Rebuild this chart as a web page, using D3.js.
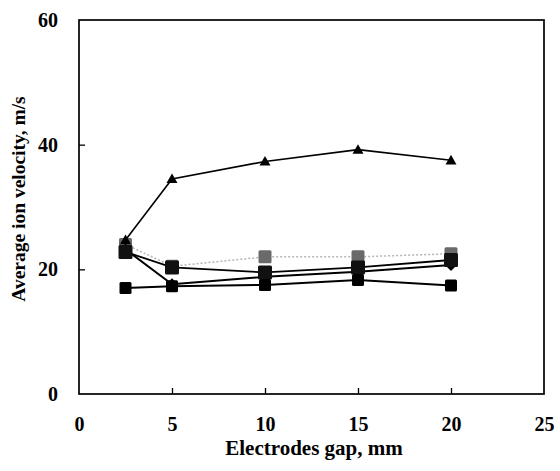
<!DOCTYPE html>
<html><head><meta charset="utf-8">
<script src="https://cdn.jsdelivr.net/npm/d3@7"></script>
<style>body{margin:0;background:#fff}svg{display:block}text{font-family:"Liberation Serif","Times New Roman",serif;fill:#000}</style>
</head><body>
<svg id="c" width="560" height="471"></svg>
<script>
const gaps = [2.5, 5, 10, 15, 20];
const triangleSeries = [24.7, 34.5, 37.3, 39.2, 37.5];
const bottomSquareSeries = [17.0, 17.3, 17.5, 18.3, 17.4];
const graySquareSeries = [24.0, 20.5, 22.0, 22.0, 22.5];
const blackSquareSeries = [22.8, 20.3, 19.5, 20.3, 21.5];
const diamondSeries = [23.2, 17.6, 18.8, 19.6, 20.7];
const xTicks = [0, 5, 10, 15, 20, 25];
const yTicks = [0, 20, 40, 60];

const svg = d3.select("#c");
const L = 79, R = 544, T = 20, B = 394;
const x = d3.scaleLinear().domain([0, 25]).range([L, R]);
const y = d3.scaleLinear().domain([0, 60]).range([B, T]);

svg.append("rect").attr("x", L).attr("y", T).attr("width", R - L).attr("height", B - T)
  .attr("fill", "none").attr("stroke", "#000").attr("stroke-width", 1.7);

const xAx = svg.append("g").attr("transform", `translate(0,${B})`)
  .call(d3.axisBottom(x).tickValues(xTicks).tickSize(-6).tickPadding(23).tickFormat(d3.format("d")));
const yAx = svg.append("g").attr("transform", `translate(${L},0)`)
  .call(d3.axisLeft(y).tickValues(yTicks).tickSize(-6).tickPadding(21).tickFormat(d3.format("d")));
[xAx, yAx].forEach(a => {
  a.select(".domain").remove();
  a.selectAll("line").attr("stroke", "#000").attr("stroke-width", 1.3);
  a.selectAll("text").style("font-family", "'Liberation Serif',serif").style("font-size", "20px").style("font-weight", "bold").attr("fill", "#000");
});
xAx.selectAll(".tick").filter(d => d === 0 || d === 25).select("line").remove();
yAx.selectAll(".tick").filter(d => d === 0 || d === 60).select("line").remove();

svg.append("text").attr("x", 314).attr("y", 455).attr("text-anchor", "middle")
  .style("font-size", "21px").style("font-weight", "bold").text("Electrodes gap, mm");
svg.append("text").attr("transform", `translate(25,199) rotate(-90)`).attr("text-anchor", "middle")
  .style("font-size", "19.5px").style("font-weight", "bold").text("Average ion velocity, m/s");

const line = d3.line().x((d, i) => x(gaps[i])).y(d => y(d));
const series = [
  {v: graySquareSeries, stroke: "#b5b5b5", dash: "2,2", w: 1.5, marker: "square", fill: "#6a6a6a", size: 13},
  {v: diamondSeries, stroke: "#000", dash: null, w: 2, marker: "diamond", fill: "#000", size: 12},
  {v: blackSquareSeries, stroke: "#000", dash: null, w: 1.8, marker: "square", fill: "#111", size: 14},
  {v: bottomSquareSeries, stroke: "#000", dash: null, w: 2, marker: "square", fill: "#000", size: 12},
  {v: triangleSeries, stroke: "#000", dash: null, w: 1.6, marker: "triangle", fill: "#000", size: 11}
];
series.forEach(s => {
  svg.append("path").datum(s.v).attr("d", line).attr("fill", "none")
    .attr("stroke", s.stroke).attr("stroke-width", s.w).attr("stroke-dasharray", s.dash);
});
series.forEach(s => {
  const g = svg.append("g");
  s.v.forEach((v, i) => {
    const cx = x(gaps[i]), cy = y(v), h = s.size / 2;
    if (s.marker === "square") {
      g.append("rect").attr("x", cx - h).attr("y", cy - h).attr("width", s.size).attr("height", s.size)
        .attr("rx", 1.5).attr("fill", s.fill);
    } else if (s.marker === "diamond") {
      g.append("path").attr("d", `M${cx},${cy - h}L${cx + h},${cy}L${cx},${cy + h}L${cx - h},${cy}Z`).attr("fill", s.fill);
    } else {
      g.append("path").attr("d", `M${cx},${cy - h}L${cx + h},${cy + h * 0.75}L${cx - h},${cy + h * 0.75}Z`).attr("fill", s.fill);
    }
  });
});
</script>
</body></html>
